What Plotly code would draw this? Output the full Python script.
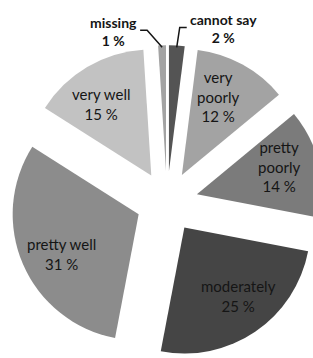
import math
import plotly.graph_objects as go

labels = ["cannot say", "very poorly", "pretty poorly", "moderately", "pretty well", "very well", "missing"]
values = [2, 12, 14, 25, 31, 15, 1]
display = ["cannot say", "very<br>poorly", "pretty<br>poorly", "moderately", "pretty well", "very well", "missing"]
colors = ["#545454", "#a3a3a3", "#7b7b7b", "#454545", "#8c8c8c", "#c2c2c2", "#a3a3a3"]
outside = ["cannot say", "missing"]

# canvas slightly larger than the window; the overflow is clipped like the original
W, H = 340, 372
CX, CY, R, PULL = 167.0, 202.0, 126.0, 0.245
LABEL_R, LABEL_TURN = 0.69, math.radians(-4)
half = R * (1 + PULL)
dom_x = [(CX - half) / W, (CX + half) / W]
dom_y = [1 - (CY + half) / H, 1 - (CY - half) / H]

fig = go.Figure(go.Pie(
    labels=labels, values=values, textinfo="none",
    sort=False, direction="clockwise", rotation=0, pull=PULL,
    marker=dict(colors=colors, line=dict(width=0)),
    domain=dict(x=dom_x, y=dom_y), showlegend=False, hoverinfo="label+percent",
))

def to_paper(x, y):
    return x / W, 1 - y / H

in_font = dict(family="Lato, Open Sans, sans-serif", size=15, color="#151515")
out_font = dict(family="Lato, Open Sans, sans-serif", size=14, color="#151515")

shapes, annos = [], []
total = sum(values)
cum = 0
d = R * PULL
for l, disp, v in zip(labels, display, values):
    mid = (cum + v / 2) / total * 2 * math.pi
    s, c = math.sin(mid), math.cos(mid)
    ax_, ay_ = CX + d * s, CY - d * c   # apex of the pulled slice
    cum += v
    if l not in outside:
        ts, tc = math.sin(mid + LABEL_TURN), math.cos(mid + LABEL_TURN)
        tx, ty = to_paper(ax_ + LABEL_R * R * ts, ay_ - LABEL_R * R * tc)
        annos.append(dict(x=tx, y=ty, xref="paper", yref="paper", xanchor="center", yanchor="middle",
                          text=f"{disp}<br>{v} %", showarrow=False, font=in_font, align="center"))
        continue
    ex, ey = ax_ + (R - 2) * s, ay_ - (R - 2) * c
    if l == "missing":
        p0 = (ex - 15, ey - 17); p1 = (p0[0] - 7, p0[1]); anchor = "right"
    else:
        p0 = (ex + 3, ey - 20); p1 = (p0[0] + 7, p0[1]); anchor = "left"
    a, b, cc = to_paper(ex, ey), to_paper(*p0), to_paper(*p1)
    shapes.append(dict(type="path", xref="paper", yref="paper",
                       path=f"M {a[0]} {a[1]} L {b[0]} {b[1]} L {cc[0]} {cc[1]}",
                       line=dict(color="#151515", width=1.5)))
    tx, ty = to_paper(p1[0] + (-1 if anchor == "right" else 1), p1[1] - 18)
    annos.append(dict(x=tx, y=ty, xref="paper", yref="paper", xanchor=anchor, yanchor="top",
                      text=f"<b>{disp}</b><br><b>{v} %</b>", showarrow=False, font=out_font,
                      align="center"))

fig.update_layout(width=W, height=H, margin=dict(l=0, r=0, t=0, b=0),
                  paper_bgcolor="white", plot_bgcolor="white",
                  shapes=shapes, annotations=annos)

fig.write_html("out.html", config={"displayModeBar": False},
               post_script="document.body.style.margin='0';document.body.style.overflow='hidden';document.documentElement.style.overflow='hidden';")
